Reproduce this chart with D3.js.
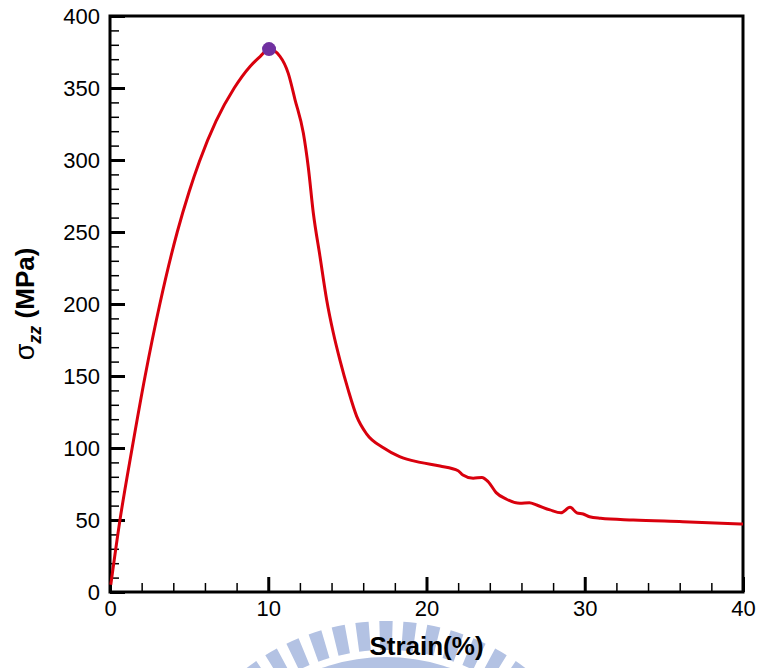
<!DOCTYPE html>
<html>
<head>
<meta charset="utf-8">
<script src="https://cdn.jsdelivr.net/npm/d3@7"></script>
<style>
  body { margin: 0; background: #fff; }
  svg { display: block; font-family: 'Liberation Sans', Arial, sans-serif; }
</style>
</head>
<body>
<svg id="chart" width="758" height="668"></svg>
<script>
// strain (%) and axial stress sigma_zz (MPa)
const strain = [0.05, 0.63, 1.4, 2.22, 3.15, 4.25, 5.0, 5.65, 6.7, 7.85, 8.85, 9.5, 10.05,
  10.74, 11.27, 11.69, 12.22, 12.53, 12.85, 13.27, 13.69, 14.11, 14.53, 15.06, 15.59, 16.2,
  17.3, 18.3, 19.6, 20.85, 22.0, 22.3, 22.95, 23.5, 23.9, 24.4, 25.06, 25.9, 26.5, 26.96,
  27.8, 28.5, 29.07, 29.5, 29.9, 30.3, 31.0, 33.06, 36.2, 40];
const stress = [5, 50, 100, 150, 200, 250, 278, 299, 327, 350, 365, 372, 377,
  372, 360, 342, 318.5, 295, 263, 233, 203, 180, 161, 140, 122, 110,
  100, 94, 90, 87.5, 84.2, 81.3, 79, 79.6, 76.6, 69, 64.4, 61.6, 62, 60.4,
  57, 55, 58.8, 55, 54.2, 52.3, 51.2, 50, 48.8, 47.2];
const peakStrain = [10.05];
const peakStress = [377];

const xTicks = [0, 10, 20, 30, 40];
const yTicks = [0, 50, 100, 150, 200, 250, 300, 350, 400];

const margin = { top: 16, right: 15, bottom: 76, left: 110 };
const w = 758;
const h = 668;

const svg = d3.select('#chart');

// faint watermark behind the axis title
const wm = svg.append('g').attr('transform', 'translate(386, 851)').attr('fill', '#b3c2e3');
const stripeArc = d3.arc().innerRadius(201).outerRadius(230);
d3.range(-12, 13).forEach(i => {
  const a = i * 6 * Math.PI / 180;
  wm.append('path')
    .attr('d', stripeArc({ startAngle: a - 0.029, endAngle: a + 0.029 }));
});
wm.append('path')
  .attr('d', d3.arc().innerRadius(160).outerRadius(194)({ startAngle: -1.2, endAngle: 1.2 }));

const x = d3.scaleLinear().domain([0, 40]).range([margin.left, w - margin.right]);
const y = d3.scaleLinear().domain([0, 400]).range([h - margin.bottom, margin.top]);

// minor ticks
svg.append('g')
  .attr('transform', `translate(0, ${y(0)})`)
  .call(d3.axisBottom(x).tickValues(d3.range(0, 41, 2)).tickSize(-9).tickFormat(''))
  .call(g => g.select('.domain').remove())
  .call(g => g.selectAll('line').attr('stroke-width', 1.5));
svg.append('g')
  .attr('transform', `translate(${x(0)}, 0)`)
  .call(d3.axisLeft(y).tickValues(d3.range(0, 401, 10)).tickSize(-9).tickFormat(''))
  .call(g => g.select('.domain').remove())
  .call(g => g.selectAll('line').attr('stroke-width', 1.5));

// major ticks + labels
svg.append('g')
  .attr('transform', `translate(0, ${y(0)})`)
  .call(d3.axisBottom(x).tickValues(xTicks).tickSize(-15).tickPadding(8))
  .call(g => g.select('.domain').remove())
  .call(g => g.selectAll('line').attr('stroke-width', 3))
  .call(g => g.selectAll('text').attr('font-size', 22).attr('font-family', 'Liberation Sans, Arial, sans-serif').attr('fill', '#000'));
svg.append('g')
  .attr('transform', `translate(${x(0)}, 0)`)
  .call(d3.axisLeft(y).tickValues(yTicks).tickSize(-15).tickPadding(10))
  .call(g => g.select('.domain').remove())
  .call(g => g.selectAll('line').attr('stroke-width', 3))
  .call(g => g.selectAll('text').attr('font-size', 22).attr('font-family', 'Liberation Sans, Arial, sans-serif').attr('fill', '#000'));

// frame
svg.append('rect')
  .attr('x', x(0)).attr('y', y(400))
  .attr('width', x(40) - x(0)).attr('height', y(0) - y(400))
  .attr('fill', 'none').attr('stroke', '#000').attr('stroke-width', 3);

// curve
const line = d3.line()
  .x((d, i) => x(strain[i]))
  .y((d, i) => y(stress[i]))
  .curve(d3.curveMonotoneX);
svg.append('path')
  .attr('d', line(strain))
  .attr('fill', 'none')
  .attr('stroke', '#d9000d')
  .attr('stroke-width', 3)
  .attr('stroke-linejoin', 'round');

svg.selectAll('.peak')
  .data(peakStrain)
  .enter()
  .append('circle')
  .attr('class', 'peak')
  .attr('cx', d => x(d))
  .attr('cy', (d, i) => y(peakStress[i]))
  .attr('r', 7)
  .attr('fill', '#7030a0');

// axis titles
svg.append('text')
  .attr('x', (x(0) + x(40)) / 2)
  .attr('y', 655)
  .attr('text-anchor', 'middle')
  .attr('font-size', 26)
  .attr('font-weight', 'bold')
  .text('Strain(%)');

const yt = svg.append('text')
  .attr('transform', 'translate(34, 304) rotate(-90)')
  .attr('text-anchor', 'middle')
  .attr('font-size', 26);
yt.append('tspan').attr('font-size', 27).text('σ');
yt.append('tspan').attr('font-size', 18).attr('font-weight', 'bold').attr('font-style', 'italic').attr('dy', 7).text('zz');
yt.append('tspan').attr('font-weight', 'bold').attr('dy', -7).text(' (MPa)');
</script>
</body>
</html>
